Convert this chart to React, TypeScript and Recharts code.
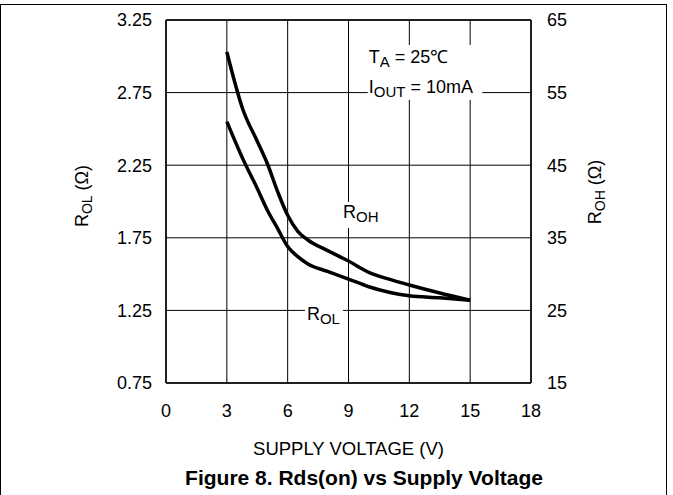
import React from 'react';
import { LineChart, Line, XAxis, YAxis, CartesianGrid, ReferenceArea, ReferenceLine } from 'recharts';

const voltage = [3, 3.8, 4.5, 5, 5.5, 6, 6.5, 7, 8, 9, 10, 11, 12, 13.5, 15];
const rolValues = [2.55, 2.29, 2.09, 1.94, 1.815, 1.69, 1.62, 1.57, 1.517, 1.466, 1.413, 1.375, 1.351, 1.337, 1.32];
const rohValues = [60.6, 52.6, 48.3, 45.2, 41.4, 38.1, 35.9, 34.7, 33.2, 31.8, 30.25, 29.3, 28.5, 27.4, 26.4];
const xTicks = [0, 3, 6, 9, 12, 15, 18];
const rolTicks = [0.75, 1.25, 1.75, 2.25, 2.75, 3.25];
const rohTicks = [15, 25, 35, 45, 55, 65];

const data = voltage.map((v, i) => ({ v, rol: rolValues[i], roh: rohValues[i] }));

const FONT = '"Liberation Sans", Arial, sans-serif';
const tickStyle = { fill: '#000', fontSize: 18, fontFamily: FONT };

const Sub = ({ children }: { children: React.ReactNode }) => null;

const boxShape = (lines: { main: string; sub: string; rest: string; dy: number }[], dx: number) => (p: any) => (
  <g>
    <rect x={p.x} y={p.y} width={p.width} height={p.height} fill="#fff" stroke="none" />
    {lines.map((l, i) => (
      <text key={i} x={p.x + dx} y={p.y + l.dy} fill="#000" fontSize={18} fontFamily={FONT}>
        <tspan>{l.main}</tspan>
        <tspan fontSize={15} dy={4}>{l.sub}</tspan>
        <tspan dy={-4}>{l.rest}</tspan>
      </text>
    ))}
  </g>
);

export default function App() {
  return (
    <div style={{ position: 'absolute', left: 0, top: 0, width: 673, height: 495, overflow: 'hidden', background: '#fff' }}>
      <div style={{ position: 'absolute', left: 0, top: 4, width: 667, height: 560, border: '1.5px solid #000', boxSizing: 'border-box' }} />
      <div style={{ position: 'absolute', left: 0, top: 0 }}>
        <LineChart width={673} height={495} data={data} margin={{ top: 20, right: 0, bottom: 0, left: 0 }}>
          <CartesianGrid yAxisId="left" stroke="#000" strokeWidth={1} horizontalValues={rolTicks} verticalValues={xTicks} />
          <XAxis
            dataKey="v"
            type="number"
            domain={[0, 18]}
            ticks={xTicks}
            height={112}
            tickSize={0}
            tickMargin={21}
            tickLine={false}
            axisLine={{ stroke: '#000', strokeWidth: 1.5 }}
            tick={tickStyle}
          />
          <YAxis
            yAxisId="left"
            domain={[0.75, 3.25]}
            ticks={rolTicks}
            width={166}
            tickSize={0}
            tickMargin={14}
            tickLine={false}
            axisLine={{ stroke: '#000', strokeWidth: 1.5 }}
            tick={tickStyle}
            tickFormatter={(t: number) => t.toFixed(2)}
          />
          <YAxis
            yAxisId="right"
            orientation="right"
            domain={[15, 65]}
            ticks={rohTicks}
            width={142}
            tickSize={0}
            tickMargin={16}
            tickLine={false}
            axisLine={{ stroke: '#000', strokeWidth: 1.5 }}
            tick={tickStyle}
          />
          <ReferenceLine yAxisId="left" y={3.25} stroke="#000" strokeWidth={1.5} />
          <ReferenceArea
            yAxisId="left"
            x1={9.95}
            x2={15.6}
            y1={2.7}
            y2={3.078}
            shape={boxShape(
              [
                { main: 'T', sub: 'A', rest: ' = 25℃', dy: 18 },
                { main: 'I', sub: 'OUT', rest: ' = 10mA', dy: 48 },
              ],
              1
            )}
          />
          <ReferenceArea
            yAxisId="left"
            x1={8.73}
            x2={10.6}
            y1={1.818}
            y2={1.997}
            shape={boxShape([{ main: 'R', sub: 'OH', rest: '', dy: 16 }], 0)}
          />
          <ReferenceArea
            yAxisId="left"
            x1={6.85}
            x2={8.73}
            y1={1.17}
            y2={1.308}
            shape={boxShape([{ main: 'R', sub: 'OL', rest: '', dy: 18 }], 2)}
          />
          <Line yAxisId="left" dataKey="rol" type="monotone" stroke="#000" strokeWidth={3.5} dot={false} isAnimationActive={false} />
          <Line yAxisId="right" dataKey="roh" type="monotone" stroke="#000" strokeWidth={3.5} dot={false} isAnimationActive={false} />
        </LineChart>
      </div>
      <svg width={673} height={495} style={{ position: 'absolute', left: 0, top: 0, pointerEvents: 'none' }}>
        <text x={348.5} y={455} textAnchor="middle" fontSize={18.5} fontFamily={FONT} fill="#000">SUPPLY VOLTAGE (V)</text>
        <text x={364} y={485} textAnchor="middle" fontSize={21} fontWeight="bold" fontFamily={FONT} fill="#000">Figure 8. Rds(on) vs Supply Voltage</text>
        <text transform="translate(88,196) rotate(-90)" textAnchor="middle" fontSize={18} fontFamily={FONT} fill="#000">
          <tspan>R</tspan>
          <tspan fontSize={14} dy={4}>OL</tspan>
          <tspan dy={-4}> (Ω)</tspan>
        </text>
        <text transform="translate(601,192) rotate(-90)" textAnchor="middle" fontSize={18} fontFamily={FONT} fill="#000">
          <tspan>R</tspan>
          <tspan fontSize={14} dy={4}>OH</tspan>
          <tspan dy={-4}> (Ω)</tspan>
        </text>
      </svg>
    </div>
  );
}
